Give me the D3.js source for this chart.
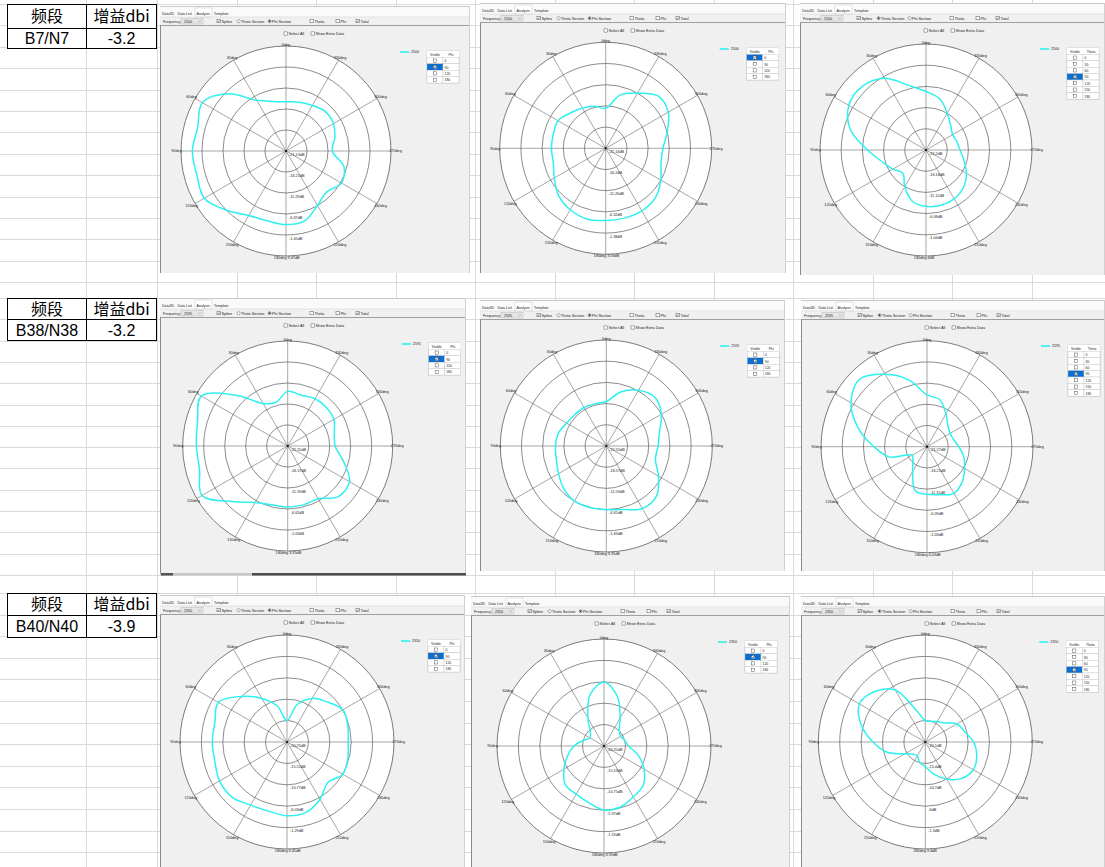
<!DOCTYPE html>
<html>
<head>
<meta charset="utf-8">
<script src="https://cdn.jsdelivr.net/npm/d3@7"></script>
<style>
  body { margin: 0; background: #fff; }
  svg { display: block; }
</style>
</head>
<body>
<script>
// ---- data ----
const bands = ["B7/N7", "B38/N38", "B40/N40"];
const gains = ["-3.2", "-3.2", "-3.9"];
const headers = ["频段", "增益dbi"];
const freqs = ["2500", "2595", "2350"];

// sample angles of each cut (deg, counter-clockwise from top as in the tool)
const angleDeg = [0, 15, 30, 45, 60, 75, 90, 105, 120, 135, 150, 165,
                  180, 195, 210, 225, 240, 255, 270, 285, 300, 315, 330, 345];
const spokeDeg = [0, 30, 60, 90, 120, 150, 180, 210, 240, 270, 300, 330];
const phiRows = ["0", "90", "120", "180"];
const thetaRows = ["0", "30", "60", "90", "120", "150", "180"];

// ring labels (dB), centre -> outer circle
const ringsB7 = [[-21.13, -16.21, -11.29, -6.37, -1.45, 3.47],
                 [-21.14, -16.2, -11.26, -6.32, -1.38, 3.56],
                 [-21.2, -16.16, -11.12, -6.08, -1.04, 4]];
const ringsB38 = [[-21.55, -16.57, -11.59, -6.61, -1.63, 3.35],
                  [-21.55, -16.57, -11.59, -6.61, -1.63, 3.35],
                  [-21.27, -16.21, -11.15, -6.09, -1.03, 4.03]];
const ringsB40 = [[-20.25, -15.51, -10.77, -6.03, -1.29, 3.45],
                  [-20.31, -15.53, -10.75, -5.97, -1.19, 3.59],
                  [-20.1, -15.4, -10.7, -6, -1.3, 3.4]];

// total gain (dB) per cut
const b7Cut1 = [-9.6, -9.1, -7.4, -2.2, 1.5, 0.3, 0.8, 0.5, 1.0, -1.5, -3.7, -4.2,
                -3.9, -4.2, -6.4, -7.6, -6.1, -7.1, -10.3, -9.3, -8.3, -8.1, -8.8, -9.3];
const b7Cut2 = [-11.8, -11.0, -10.3, -9.5, -8.3, -8.5, -8.5, -8.5, -7.3, -5.6, -4.6, -4.1,
                -4.3, -4.3, -4.3, -4.8, -6.3, -7.8, -7.8, -6.3, -4.3, -3.9, -6.3, -8.3];
const b7Cut3 = [-7.3, -5.3, -1.5, 0.2, 0.0, -2.6, -7.3, -10.4, -12.1, -13.4, -11.1, -8.6,
                -7.8, -7.6, -7.8, -8.6, -10.1, -11.9, -13.1, -13.6, -13.9, -12.9, -11.1, -8.6];
const b38Cut1 = [-8.6, -10.8, -9.9, -4.6, 2.1, 0.6, 0.1, 0.1, 1.9, -2.9, -6.1, -7.1,
                 -7.1, -7.1, -7.1, -4.6, -4.6, -7.9, -10.3, -10.1, -8.9, -8.6, -8.6, -9.1];
const b38Cut2 = [-11.1, -11.3, -11.1, -11.1, -10.8, -9.9, -9.6, -9.4, -8.6, -7.4, -6.6, -6.6,
                 -6.6, -6.1, -4.6, -4.9, -7.4, -9.6, -9.4, -8.6, -6.6, -5.4, -6.4, -8.4];
const b38Cut3 = [-8.9, -4.8, -1.3, 1.5, -0.3, -4.3, -8.6, -11.9, -17.2, -16.5, -14.4, -10.4,
                 -9.9, -9.4, -8.4, -9.4, -10.9, -12.2, -13.7, -14.7, -14.9, -14.2, -12.2, -9.6];
const b40Cut1 = [-15.5, -12.0, -9.1, -6.0, -2.7, -3.7, -3.7, -3.7, -3.0, -3.0, -4.1, -4.4,
                 -3.9, -4.1, -5.6, -7.5, -6.0, -6.3, -6.7, -6.3, -6.0, -7.7, -9.1, -11.7];
const b40Cut2 = [-6.0, -8.4, -13.1, -16.0, -16.7, -15.5, -13.6, -11.9, -10.0, -8.1, -7.9, -7.2,
                 -6.0, -6.2, -7.2, -7.9, -10.0, -12.4, -14.8, -15.5, -16.0, -15.5, -13.1, -8.8];
const b40Cut3 = [-15.4, -13.1, -6.9, -4.4, -3.4, -5.5, -8.6, -11.4, -14.9, -16.3, -16.6, -15.4,
                 -14.7, -12.8, -10.7, -8.8, -7.9, -8.4, -9.5, -11.2, -12.1, -14.2, -14.9, -15.4];

const cuts = [b7Cut1, b7Cut2, b7Cut3, b38Cut1, b38Cut2, b38Cut3, b40Cut1, b40Cut2, b40Cut3];
const rings = [...ringsB7, ...ringsB38, ...ringsB40];
const selectedRow = [1, 0, 3, 1, 1, 3, 1, 1, 3];

// ---- layout of the nine screenshots ----
const panels = [
  { x: 160, y: 6,   w: 310, h: 267, cx: 126,   cy: 145,   R: 105 },
  { x: 480, y: 3,   w: 306, h: 270, cx: 125.7, cy: 145.3, R: 106 },
  { x: 800, y: 3,   w: 305, h: 272, cx: 126,   cy: 147,   R: 106 },
  { x: 160, y: 298, w: 306, h: 275, cx: 127.7, cy: 148,   R: 105 },
  { x: 480, y: 300, w: 305, h: 271, cx: 126.3, cy: 146,   R: 106 },
  { x: 801, y: 300, w: 304, h: 271, cx: 126,   cy: 146.7, R: 106 },
  { x: 160, y: 595, w: 305, h: 272, cx: 127,   cy: 147,   R: 107 },
  { x: 471, y: 596, w: 319, h: 271, cx: 133,   cy: 150,   R: 107 },
  { x: 801, y: 596, w: 304, h: 271, cx: 124.3, cy: 146,   R: 107 }
];

const W = 1105, H = 867;
const svg = d3.select('body').append('svg')
  .attr('width', W).attr('height', H)
  .style('font-family', '"Liberation Sans", Arial, sans-serif');

svg.append('rect').attr('width', W).attr('height', H).attr('fill', '#fff');

// spreadsheet gridlines
const grid = svg.append('g').attr('stroke', '#dadada').attr('stroke-width', 1);
const colLines = [86, 157, 236.5, 316, 395.5, 475, 554.5, 634, 713.5, 793, 872.5, 952, 1031.5];
colLines.forEach(x => grid.append('line')
  .attr('x1', Math.round(x) + 0.5).attr('x2', Math.round(x) + 0.5)
  .attr('y1', 0).attr('y2', H));
const sections = [{ top: 4, end: 290, step: 21.4 }, { top: 298, end: 586, step: 21.3 }, { top: 593, end: H, step: 21.6 }];
sections.forEach(s => {
  for (let y = s.top; y < s.end; y += s.step) {
    grid.append('line').attr('x1', 0).attr('x2', W)
      .attr('y1', Math.round(y) + 0.5).attr('y2', Math.round(y) + 0.5);
  }
});

// little band / gain tables
const tableTops = [4, 298, 593];
const rowH = [[24, 20], [21, 21], [22, 22]];
bands.forEach((b, i) => {
  const g = svg.append('g').attr('transform', `translate(0,${tableTops[i]})`);
  const h1 = rowH[i][0], h2 = rowH[i][1];
  g.append('rect').attr('x', 7.5).attr('y', 0.5).attr('width', 149).attr('height', h1 + h2)
    .attr('fill', '#fff').attr('stroke', '#000');
  g.append('line').attr('x1', 7.5).attr('x2', 156.5).attr('y1', h1 + 0.5).attr('y2', h1 + 0.5).attr('stroke', '#000');
  g.append('line').attr('x1', 86.5).attr('x2', 86.5).attr('y1', 0.5).attr('y2', h1 + h2 + 0.5).attr('stroke', '#000');
  const cjk = '"Noto Sans CJK SC", "Liberation Sans", sans-serif';
  g.append('text').attr('x', 47).attr('y', h1 / 2 + 6).attr('text-anchor', 'middle')
    .attr('font-size', 16).attr('font-family', cjk).text(headers[0]);
  g.append('text').attr('x', 121.5).attr('y', h1 / 2 + 6).attr('text-anchor', 'middle')
    .attr('font-size', 16).attr('font-family', cjk).text(headers[1]);
  g.append('text').attr('x', 47).attr('y', h1 + h2 / 2 + 6).attr('text-anchor', 'middle')
    .attr('font-size', 16).text(b);
  g.append('text').attr('x', 121.5).attr('y', h1 + h2 / 2 + 6).attr('text-anchor', 'middle')
    .attr('font-size', 16).text(gains[i]);
});

// scrollbar strip under the middle-left screenshot
svg.append('rect').attr('x', 160).attr('y', 573).attr('width', 306).attr('height', 2.5).attr('fill', '#c8c8c8');
svg.append('rect').attr('x', 161).attr('y', 573).attr('width', 12).attr('height', 2.5).attr('fill', '#555');
svg.append('rect').attr('x', 252).attr('y', 573).attr('width', 214).attr('height', 2.5).attr('fill', '#4d4d4d');

const FS = 3.8;

function checkbox(g, x, y, checked) {
  g.append('rect').attr('x', x).attr('y', y - 1.6).attr('width', 3.2).attr('height', 3.2)
    .attr('fill', '#fff').attr('stroke', '#333').attr('stroke-width', 0.4);
  if (checked) {
    g.append('path').attr('d', `M${x + 0.7},${y} L${x + 1.4},${y + 0.9} L${x + 2.6},${y - 0.9}`)
      .attr('fill', 'none').attr('stroke', '#222').attr('stroke-width', 0.5);
  }
}

function radio(g, x, y, on) {
  g.append('circle').attr('cx', x + 1.6).attr('cy', y).attr('r', 1.6)
    .attr('fill', '#fff').attr('stroke', '#333').attr('stroke-width', 0.4);
  if (on) g.append('circle').attr('cx', x + 1.6).attr('cy', y).attr('r', 0.85).attr('fill', '#222');
}

function label(g, x, y, t, size, anchor) {
  return g.append('text').attr('x', x).attr('y', y).attr('font-size', size || FS)
    .attr('fill', '#222').attr('text-anchor', anchor || 'start').text(t);
}

panels.forEach((p, i) => {
  const col = i % 3, row = Math.floor(i / 3);
  const isTheta = col === 2;
  const g = svg.append('g').attr('transform', `translate(${p.x},${p.y})`);

  // window chrome
  g.append('rect').attr('width', p.w).attr('height', p.h).attr('fill', '#f0f0f0');
  g.append('rect').attr('width', p.w).attr('height', 11).attr('fill', '#fafafa');
  g.append('line').attr('x1', 0).attr('x2', p.w).attr('y1', 0.5).attr('y2', 0.5).attr('stroke', '#c8c8c8');
  g.append('rect').attr('x', 35).attr('y', 2).attr('width', 17).attr('height', 9)
    .attr('fill', '#fff').attr('stroke', '#c8c8c8').attr('stroke-width', 0.5);
  label(g, 2, 8.5, 'Data3D', 3.6);
  label(g, 17.5, 8.5, 'Data List', 3.6);
  label(g, 36.5, 8.5, 'Analysis', 3.6);
  label(g, 54, 8.5, 'Template', 3.6);
  g.append('line').attr('x1', 0).attr('x2', p.w).attr('y1', 11).attr('y2', 11).attr('stroke', '#d8d8d8').attr('stroke-width', 0.6);

  // toolbar
  label(g, 3, 16.5, 'Frequency:', 3.6);
  g.append('rect').attr('x', 21).attr('y', 12.5).attr('width', 22).attr('height', 5.5)
    .attr('fill', '#e6e6e6').attr('stroke', '#aaa').attr('stroke-width', 0.4);
  label(g, 24, 16.5, freqs[row], 3.6);
  g.append('path').attr('d', 'M38,14.6 L39.5,16 L41,14.6').attr('fill', 'none').attr('stroke', '#666').attr('stroke-width', 0.4);
  checkbox(g, 57, 15.2, true); label(g, 61.5, 16.5, 'Spline');
  radio(g, 77, 15.2, isTheta); label(g, 81, 16.5, 'Theta Section');
  radio(g, 108, 15.2, !isTheta); label(g, 112, 16.5, 'Phi Section');
  checkbox(g, 150, 15.2, false); label(g, 154.5, 16.5, 'Theta');
  checkbox(g, 176, 15.2, false); label(g, 180.5, 16.5, 'Phi');
  checkbox(g, 196, 15.2, true); label(g, 200.5, 16.5, 'Total');
  g.append('line').attr('x1', 0).attr('x2', p.w).attr('y1', 19.5).attr('y2', 19.5).attr('stroke', '#8a8a8a').attr('stroke-width', 0.8);
  g.append('line').attr('x1', 0.5).attr('x2', 0.5).attr('y1', 19.5).attr('y2', p.h).attr('stroke', '#8a8a8a');
  g.append('line').attr('x1', p.w - 0.5).attr('x2', p.w - 0.5).attr('y1', 0).attr('y2', p.h).attr('stroke', '#d0d0d0');

  checkbox(g, 124, 27.5, false); label(g, 128.5, 28.8, 'Select All');
  checkbox(g, 151, 27.5, false); label(g, 155.5, 28.8, 'Show Extra Data');

  // legend
  g.append('line').attr('x1', p.cx + 114).attr('x2', p.cx + 123).attr('y1', 46).attr('y2', 46)
    .attr('stroke', '#2ff0f0').attr('stroke-width', 1.6);
  label(g, p.cx + 125, 47.3, freqs[row], 3.6);

  // visible table
  const rowsT = isTheta ? thetaRows : phiRows;
  const tx = p.cx + 141, ty = 45, cw = 16, rh = 6.4;
  const tg = g.append('g').attr('transform', `translate(${tx},${ty})`);
  tg.append('rect').attr('width', cw * 2).attr('height', rh * (rowsT.length + 1))
    .attr('fill', '#f4f4f4').attr('stroke', '#b8b8b8').attr('stroke-width', 0.5);
  tg.append('rect').attr('width', cw * 2).attr('height', rh).attr('fill', '#fff');
  label(tg, cw / 2, rh - 1.8, 'Visible', 3.4, 'middle');
  label(tg, cw + cw / 2, rh - 1.8, isTheta ? 'Theta' : 'Phi', 3.4, 'middle');
  rowsT.forEach((v, k) => {
    const yy = rh * (k + 1);
    const sel = k === selectedRow[i];
    tg.append('rect').attr('x', 0).attr('y', yy).attr('width', cw).attr('height', rh)
      .attr('fill', sel ? '#0a6fd0' : '#fff').attr('stroke', '#c0c0c0').attr('stroke-width', 0.4);
    tg.append('rect').attr('x', cw).attr('y', yy).attr('width', cw).attr('height', rh)
      .attr('fill', '#fff').attr('stroke', '#c0c0c0').attr('stroke-width', 0.4);
    checkbox(tg, cw / 2 - 1.6, yy + rh / 2, sel);
    label(tg, cw + 1.5, yy + rh - 1.6, v, 3.4);
  });

  // polar plot
  const rv = rings[i];
  const r = d3.scaleLinear().domain([rv[0], rv[rv.length - 1]]).range([0, p.R]).clamp(true);
  const pg = g.append('g').attr('transform', `translate(${p.cx},${p.cy})`);
  pg.append('circle').attr('r', p.R).attr('fill', '#fff').attr('stroke', '#5a5a5a').attr('stroke-width', 0.8);
  rv.slice(1, rv.length - 1).forEach(v => {
    pg.append('circle').attr('r', r(v)).attr('fill', 'none').attr('stroke', '#5a5a5a').attr('stroke-width', 0.7);
  });
  spokeDeg.forEach(a => {
    const rad = a * Math.PI / 180;
    pg.append('line').attr('x1', 0).attr('y1', 0)
      .attr('x2', -p.R * Math.sin(rad)).attr('y2', -p.R * Math.cos(rad))
      .attr('stroke', '#6a6a6a').attr('stroke-width', 0.6);
    const lr = p.R + 1.5 + 3 * Math.abs(Math.sin(rad));
    const bottom = a === 180;
    pg.append('text')
      .attr('x', bottom ? 0.5 : -lr * Math.sin(rad)).attr('y', -lr * Math.cos(rad) + 1.4)
      .attr('font-size', 3.8).attr('fill', '#222').attr('text-anchor', bottom ? 'end' : 'middle')
      .text(a + 'deg');
  });
  rv.forEach((v, k) => {
    const last = k === rv.length - 1;
    pg.append('text').attr('x', last ? 1.5 : 3)
      .attr('y', k === 0 ? 4.5 : (last ? p.R + 2.9 : r(v) + 4.5))
      .attr('font-size', 3.8).attr('fill', '#222').text(v + 'dB');
  });
  pg.append('circle').attr('r', 1.1).attr('fill', '#111');

  const line = d3.lineRadial()
    .angle((d, j) => -angleDeg[j] * Math.PI / 180)
    .radius(d => r(d))
    .curve(d3.curveCatmullRomClosed.alpha(0.5));
  pg.append('path').datum(cuts[i]).attr('d', line)
    .attr('fill', 'none').attr('stroke', '#2ff0f0').attr('stroke-width', 1.5);
});
</script>
</body>
</html>
